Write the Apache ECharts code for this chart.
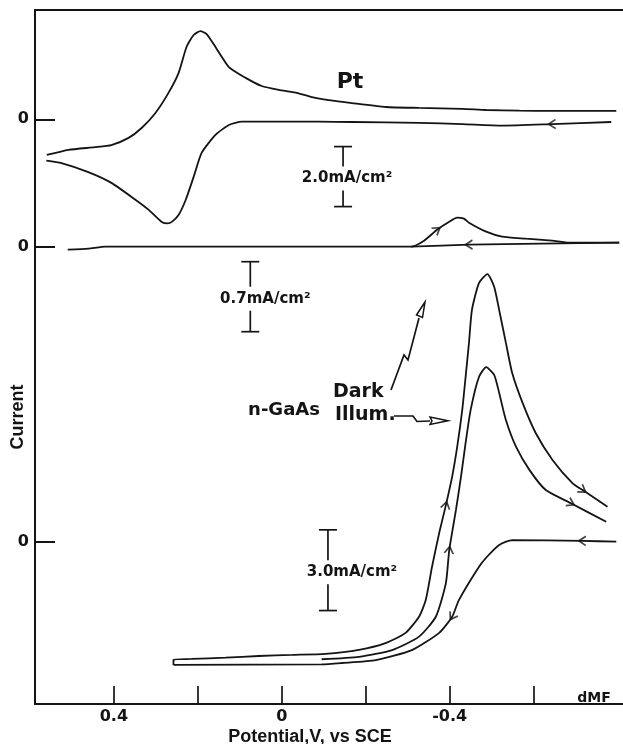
<!DOCTYPE html>
<html>
<head>
<meta charset="utf-8">
<script src="https://cdn.jsdelivr.net/npm/echarts@6/dist/echarts.min.js"></script>
<style>
html, body { margin: 0; padding: 0; background: #fff; }
#main { width: 623px; height: 744px; }
</style>
</head>
<body>
<div id="main"></div>
<script>
// potential in V vs SCE, current in mA/cm2 (each trace has its own zero line)
// Pt, cathodic scan (right -> left)
var ptForward = [[-0.785,-0.09],[-0.644,-0.16],[-0.525,-0.21],[-0.430,-0.16],[-0.327,-0.12],[-0.167,-0.09],
  [-0.088,-0.08],[0.095,-0.08],[0.126,-0.19],[0.158,-0.52],[0.191,-1.12],[0.210,-1.92],[0.229,-2.69],
  [0.246,-3.19],[0.262,-3.42],[0.272,-3.47],[0.286,-3.42],[0.317,-3.02],[0.348,-2.69],[0.406,-2.12],
  [0.461,-1.76],[0.525,-1.46],[0.561,-1.38]];
// Pt, anodic scan (left -> right)
var ptReverse = [[0.560,-1.19],[0.508,-1.02],[0.445,-0.93],[0.406,-0.86],[0.365,-0.62],[0.334,-0.29],
  [0.301,0.21],[0.270,0.88],[0.246,1.54],[0.227,2.41],[0.210,2.81],[0.194,2.94],[0.179,2.84],[0.158,2.41],
  [0.126,1.74],[0.086,1.38],[0.048,1.11],[0.007,0.98],[-0.033,0.89],[-0.072,0.74],[-0.112,0.64],
  [-0.167,0.54],[-0.248,0.41],[-0.327,0.38],[-0.430,0.35],[-0.487,0.31],[-0.566,0.29],[-0.644,0.28],
  [-0.797,0.28]];
// second trace (0.7 mA/cm2 scale)
var smallForward = [[0.510,-0.03],[0.461,-0.02],[0.420,0],[0.198,0],[-0.041,0],[-0.308,0],[-0.339,0.06],
  [-0.370,0.17],[-0.399,0.25],[-0.418,0.29],[-0.434,0.28],[-0.446,0.24],[-0.487,0.15],[-0.525,0.10],
  [-0.582,0.08],[-0.644,0.06],[-0.685,0.04],[-0.804,0.04]];
var smallReturn = [[-0.804,0.04],[-0.446,0.02],[-0.308,0]];
// n-GaAs
var gaasForward = [[-0.797,0],[-0.716,0.03],[-0.549,0.06],[-0.518,-0.12],[-0.489,-0.56],[-0.470,-0.93],
  [-0.422,-2.17],[-0.406,-2.79],[-0.375,-3.39],[-0.310,-4.03],[-0.224,-4.40],[-0.143,-4.51],
  [-0.095,-4.56],[0.258,-4.58]];
var gaasDark = [[0.258,-4.58],[0.258,-4.38],[0.215,-4.36],[0.134,-4.31],[0.055,-4.25],[-0.024,-4.21],
  [-0.104,-4.17],[-0.184,-4.02],[-0.247,-3.77],[-0.295,-3.39],[-0.327,-2.79],[-0.343,-2.17],
  [-0.358,-0.93],[-0.375,0.32],[-0.391,1.36],[-0.406,2.42],[-0.418,3.53],[-0.430,4.90],[-0.438,6.13],
  [-0.446,7.39],[-0.453,8.61],[-0.470,9.62],[-0.490,9.95],[-0.506,9.48],[-0.518,8.61],[-0.534,7.39],
  [-0.549,6.27],[-0.574,5.15],[-0.605,4.04],[-0.645,3.04],[-0.693,2.17],[-0.717,1.92],[-0.776,1.30]];
var gaasIllum = [[-0.095,-4.37],[-0.184,-4.28],[-0.263,-4.03],[-0.327,-3.53],[-0.367,-2.79],[-0.391,-1.54],
  [-0.399,-0.31],[-0.415,1.18],[-0.427,2.42],[-0.438,3.67],[-0.450,4.90],[-0.470,6.13],[-0.487,6.49],
  [-0.506,6.20],[-0.518,5.53],[-0.534,4.52],[-0.558,3.53],[-0.590,2.67],[-0.629,1.92],[-0.689,1.43],
  [-0.773,0.74]];

var xTicks = [0.4, 0.2, 0, -0.2, -0.4, -0.6];
var xLabels = [0.4, 0, -0.4];
// scale bars: [potential, top current, length]
var ptBar = [-0.146, -0.91, 2.0];
var smallBar = [0.075, -0.15, 0.7];
var gaasBar = [-0.110, 0.44, 3.0];

var ink = '#141414';
var dom = document.getElementById('main');
var myChart = echarts.init(dom, null, { renderer: 'canvas' });

function yAx(min, max, showLine) {
  return {
    type: 'value', min: min, max: max, position: 'left',
    axisLine: { show: showLine, onZero: false, lineStyle: { color: ink, width: 2 } },
    axisTick: { show: true, inside: true, length: 20, customValues: [0], lineStyle: { color: ink, width: 2 } },
    axisLabel: { show: true, customValues: [0], margin: 6, color: ink,
      fontFamily: 'DejaVu Sans', fontWeight: 'bold', fontSize: 16 },
    splitLine: { show: false }
  };
}

function curve(data, yIdx) {
  return {
    type: 'line', xAxisIndex: 0, yAxisIndex: yIdx, data: data,
    symbol: 'none', smooth: 0.2, silent: true,
    lineStyle: { color: ink, width: 1.8 }
  };
}

function scaleBar(bar, yIdx, text, dx) {
  return {
    type: 'custom', xAxisIndex: 0, yAxisIndex: yIdx, silent: true,
    data: [[bar[0], bar[1], bar[1] - bar[2]]],
    renderItem: function (params, api) {
      var top = api.coord([api.value(0), api.value(1)]);
      var bot = api.coord([api.value(0), api.value(2)]);
      var x = top[0];
      var mid = (top[1] + bot[1]) / 2 + 2;
      var ls = { stroke: ink, lineWidth: 1.7 };
      return {
        type: 'group', children: [
          { type: 'line', shape: { x1: x - 9, y1: top[1], x2: x + 9, y2: top[1] }, style: ls },
          { type: 'line', shape: { x1: x, y1: top[1], x2: x, y2: mid - 12 }, style: ls },
          { type: 'line', shape: { x1: x, y1: mid + 12, x2: x, y2: bot[1] }, style: ls },
          { type: 'line', shape: { x1: x - 9, y1: bot[1], x2: x + 9, y2: bot[1] }, style: ls },
          { type: 'text', x: x + dx, y: mid, style: { text: text, fill: ink,
            font: 'bold 15px "DejaVu Sans"', align: 'center', verticalAlign: 'middle' } }
        ]
      };
    }
  };
}

var option = {
  animation: false,
  backgroundColor: '#fff',
  grid: { left: 35, right: 0, top: 10, bottom: 40, containLabel: false, outerBoundsMode: 'none' },
  xAxis: [{
    type: 'value', min: -0.813, max: 0.588, inverse: true, position: 'bottom',
    axisLine: { onZero: false, lineStyle: { color: ink, width: 2 } },
    axisTick: { inside: true, length: 18, customValues: xTicks, lineStyle: { color: ink, width: 1.7 } },
    axisLabel: { customValues: xLabels, margin: 5, color: ink, fontFamily: 'DejaVu Sans',
      fontWeight: 'bold', fontSize: 16,
      formatter: function (v) { return v === 0 ? '0' : v.toFixed(1); } },
    splitLine: { show: false }
  }, {
    type: 'value', min: -0.813, max: 0.588, inverse: true, position: 'top',
    axisLine: { onZero: false, lineStyle: { color: ink, width: 2 } },
    axisTick: { show: false }, axisLabel: { show: false }, splitLine: { show: false }
  }],
  yAxis: [
    yAx(-19.49, 3.643, true),
    yAx(-4.573, 2.367, false),
    yAx(-6.034, 19.766, false)
  ],
  series: [
    curve(ptForward, 0), curve(ptReverse, 0),
    curve(smallForward, 1), curve(smallReturn, 1),
    curve(gaasForward, 2), curve(gaasDark, 2), curve(gaasIllum, 2),
    scaleBar(ptBar, 0, '2.0mA/cm\u00b2', 4),
    scaleBar(smallBar, 1, '0.7mA/cm\u00b2', 15),
    scaleBar(gaasBar, 2, '3.0mA/cm\u00b2', 24)
  ],
  graphic: [
    { type: 'text', x: 350, y: 82, style: { text: 'Pt', fill: ink, font: 'bold 22px "DejaVu Sans"', align: 'center', verticalAlign: 'middle' } },
    { type: 'text', x: 284, y: 410, style: { text: 'n-GaAs', fill: ink, font: 'bold 18px "DejaVu Sans"', align: 'center', verticalAlign: 'middle' } },
    { type: 'text', x: 333, y: 392, style: { text: 'Dark', fill: ink, font: 'bold 19px "DejaVu Sans"', align: 'left', verticalAlign: 'middle' } },
    { type: 'text', x: 335, y: 415, style: { text: 'Illum.', fill: ink, font: 'bold 19px "DejaVu Sans"', align: 'left', verticalAlign: 'middle' } },
    { type: 'text', x: 594, y: 698, style: { text: 'dMF', fill: ink, font: 'bold 14px "DejaVu Sans"', align: 'center', verticalAlign: 'middle' } },
    { type: 'text', x: 18, y: 417, rotation: Math.PI / 2, style: { text: 'Current', fill: ink, font: 'bold 18px "Liberation Sans"', align: 'center', verticalAlign: 'middle' } },
    { type: 'text', x: 310, y: 737, style: { text: 'Potential,V, vs SCE', fill: ink, font: 'bold 18px "Liberation Sans"', align: 'center', verticalAlign: 'middle' } },
    // pointer to the dark trace
    { type: 'polyline', shape: { points: [[391, 390], [404, 355], [408, 360], [419, 318]] }, style: { stroke: ink, lineWidth: 1.7, fill: null } },
    { type: 'polygon', shape: { points: [[425, 302], [416.5, 315], [422.5, 317.5]] }, style: { stroke: ink, lineWidth: 1.5, fill: '#fff' } },
    // pointer to the illuminated trace
    { type: 'polyline', shape: { points: [[394, 416], [413, 416], [417, 421.5], [430, 421]] }, style: { stroke: ink, lineWidth: 1.7, fill: null } },
    { type: 'polygon', shape: { points: [[448, 420.7], [430, 417], [432, 421], [430, 424.5]] }, style: { stroke: ink, lineWidth: 1.5, fill: '#fff' } }
  ]
};

myChart.setOption(option);

// arrowheads along the scans: [trace, point index, y axis]
var arrowMarks = [
  [ptForward, 1, 0], [smallForward, 7, 1], [smallReturn, 1, 1],
  [gaasForward, 1, 2], [gaasForward, 7, 2], [gaasDark, 14, 2], [gaasDark, 31, 2],
  [gaasIllum, 6, 2], [gaasIllum, 19, 2]
];
var arrowSeries = arrowMarks.map(function (m) {
  var d = m[0], i = m[1], k = m[2];
  var finder = { xAxisIndex: 0, yAxisIndex: k };
  var p1 = myChart.convertToPixel(finder, d[i - 1]);
  var p2 = myChart.convertToPixel(finder, d[i + 1]);
  var deg = Math.atan2(-(p2[1] - p1[1]), p2[0] - p1[0]) * 180 / Math.PI;
  return {
    type: 'scatter', xAxisIndex: 0, yAxisIndex: k, silent: true,
    symbol: 'path://M0,0L10,5L0,10', symbolSize: [7, 9],
    itemStyle: { color: 'rgba(0,0,0,0)', borderColor: ink, borderWidth: 1.6 },
    data: [{ value: d[i], symbolRotate: deg }]
  };
});
myChart.setOption({ series: option.series.concat(arrowSeries) });

window.addEventListener('resize', myChart.resize);
</script>
</body>
</html>
